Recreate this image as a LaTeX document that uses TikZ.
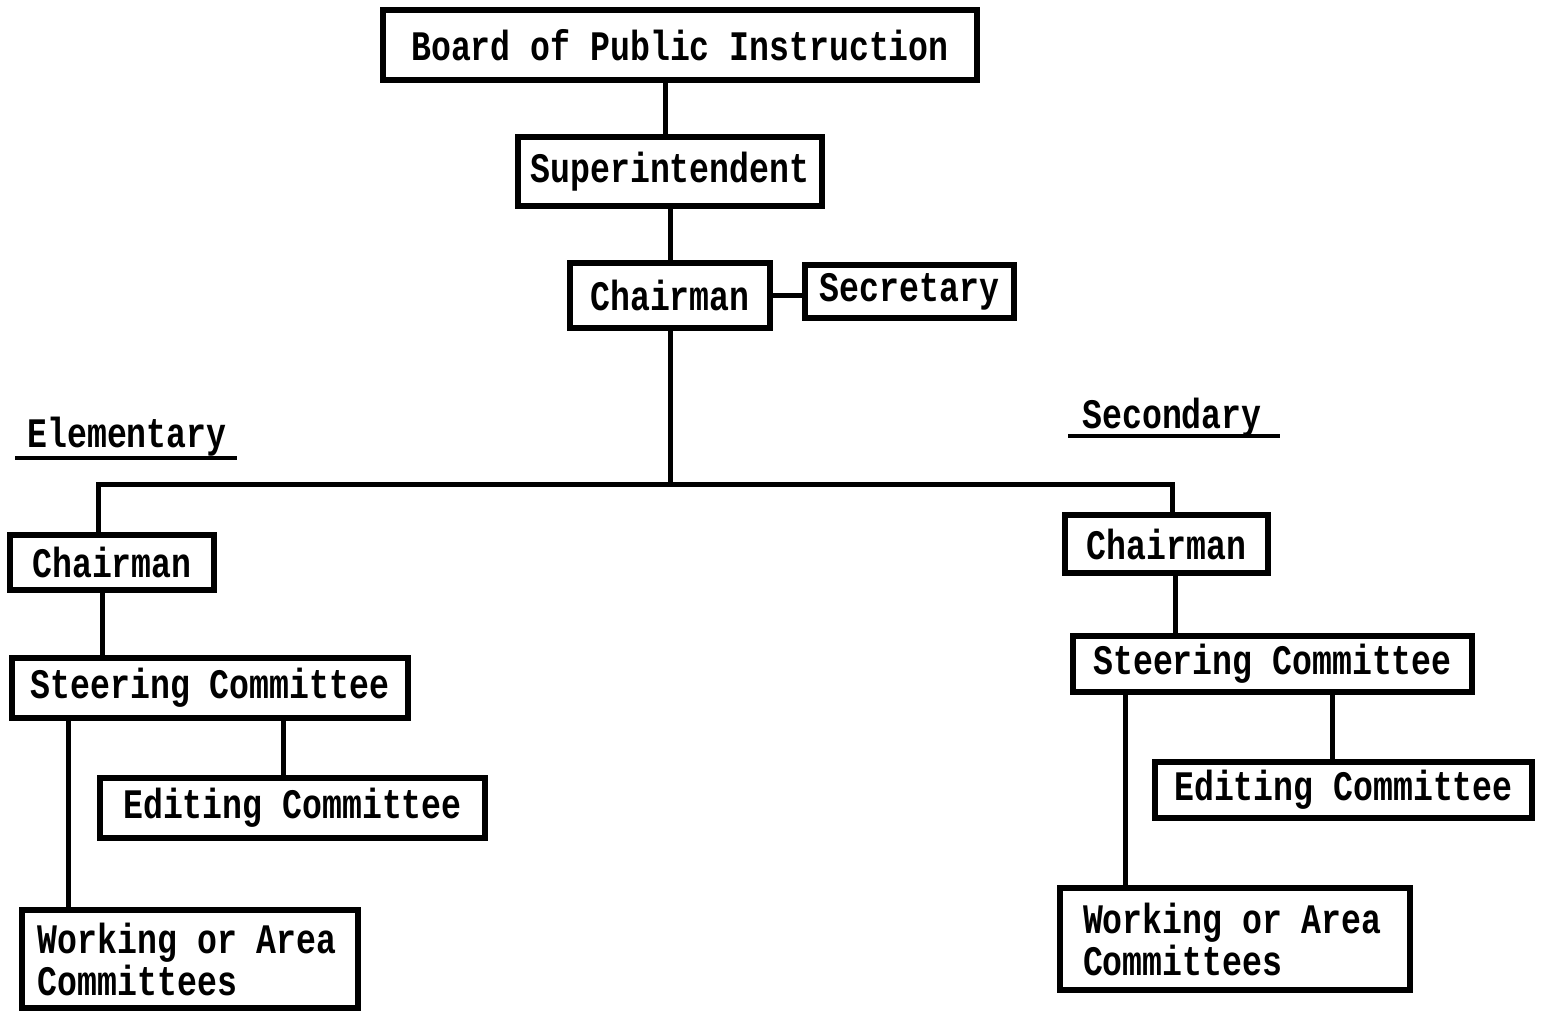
\documentclass[tikz,border=0pt]{standalone}
\usepackage{fontspec}
\newfontfamily\tw{Liberation Mono}[WordSpace={1,0,0}, FakeStretch=0.79]
\newcommand{\twsp}{\hspace{9.95pt}}
\begin{document}
\begin{tikzpicture}[x=0.5pt,y=-0.5pt,
  tf/.style={font=\tw\bfseries\fontsize{21}{21}\selectfont},
  box/.style={draw=black, line width=3pt, inner sep=0pt, tf},
  conn/.style={line width=2.5pt},
  lbl/.style={tf, inner sep=0pt}]
\useasboundingbox (0,0) rectangle (1548,1013);
\fill[white] (0,0) rectangle (1548,1013);

% top chain
\node[box, minimum width=297pt, minimum height=35pt] (board) at (680,45) {Board of Public Instruction};
\node[box, minimum width=152pt, minimum height=34.5pt] (super) at (670,171.5) {Superintendent};
\node[box, minimum width=100pt, minimum height=32.5pt] (chair) at (670,295.5) {Chairman};
\node[box, minimum width=104.5pt, minimum height=26.5pt] (sec) at (909.5,291.5) {Secretary};

% section labels
\node[lbl] (elem) at (127,437) {Elementary};
\coordinate (eul) at (15,458);
\coordinate (eur) at (237,458);
\node[lbl] (secd) at (1172,418) {Secondary};
\coordinate (sul) at (1068,436);
\coordinate (sur) at (1280,436);

% elementary branch
\node[box, minimum width=102pt, minimum height=27.5pt] (lchair) at (112,562.5) {Chairman};
\node[box, minimum width=198pt, minimum height=30pt] (lsteer) at (210,688) {Steering Committee};
\node[box, minimum width=192.5pt, minimum height=30pt] (ledit) at (292.5,808) {Editing Committee};
\node[box, minimum width=168pt, minimum height=49pt, text width=152pt, inner xsep=8pt, align=left] (lwork) at (190,959) {\hbox{Working\twsp or\twsp Area}\\\hbox{Committees}};

% secondary branch
\node[box, minimum width=101.5pt, minimum height=29pt] (rchair) at (1166.5,544) {Chairman};
\node[box, minimum width=199.5pt, minimum height=28pt] (rsteer) at (1272.5,664) {Steering Committee};
\node[box, minimum width=188.5pt, minimum height=28pt] (redit) at (1343.5,790) {Editing Committee};
\node[box, minimum width=175pt, minimum height=51pt, text width=152pt, inner xsep=11.5pt, align=left] (rwork) at (1235,939) {\hbox{Working\twsp or\twsp Area}\\\hbox{Committees}};

% bus
\coordinate (bus) at (670,484);
\coordinate (bl) at (98,484);
\coordinate (br) at (1172,484);

% connectors
\draw[conn] ([xshift=-2.5pt]super.north) -- ([xshift=-2.5pt]super.north |- board.south);
\draw[conn] (super.south) -- (chair.north);
\draw[conn] (chair.east) -- (sec.west |- chair.east);
\draw[conn] (chair.south) -- (bus);
\draw[conn] (lchair.north -| bl) -- (bl) -- (br) -- (rchair.north -| br);

\draw[conn] ([xshift=-5pt]lchair.south) -- ([xshift=-5pt]lchair.south |- lsteer.north);
\draw[conn] ([xshift=-4.75pt]ledit.north) -- ([xshift=-4.75pt]ledit.north |- lsteer.south);
\draw[conn] ([xshift=-61pt]lwork.north) -- ([xshift=-61pt]lwork.north |- lsteer.south);

\draw[conn] ([xshift=4.25pt]rchair.south) -- ([xshift=4.25pt]rchair.south |- rsteer.north);
\draw[conn] ([xshift=-5.75pt]redit.north) -- ([xshift=-5.75pt]redit.north |- rsteer.south);
\draw[conn] ([xshift=-55pt]rwork.north) -- ([xshift=-55pt]rwork.north |- rsteer.south);

% underlines
\draw[line width=2.2pt] (eul) -- (eur);
\draw[line width=2.2pt] (sul) -- (sur);
\end{tikzpicture}
\end{document}
